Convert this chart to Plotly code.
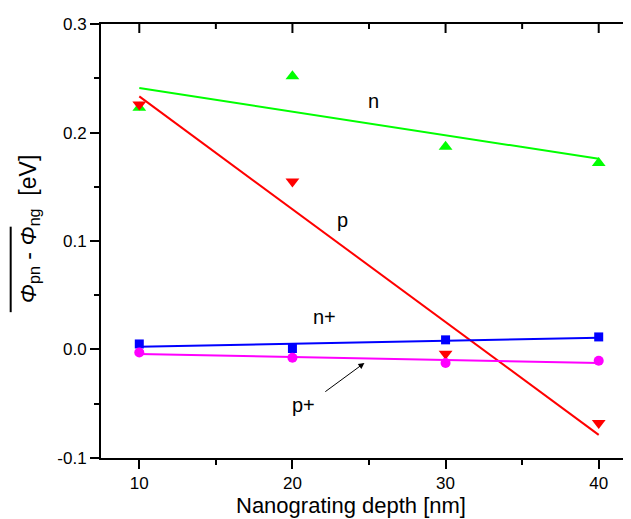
import numpy as np
import plotly.graph_objects as go

# ---- data ----
depth = [10, 20, 30, 40]
n_vals = [0.223, 0.252, 0.187, 0.172]
p_vals = [0.226, 0.155, -0.004, -0.068]
nplus_vals = [0.005, 0.0008, 0.0088, 0.0115]
pplus_vals = [-0.0028, -0.0077, -0.0126, -0.0105]

series_names = ["n", "p", "n+", "p+"]
series_colors = ["#00FF00", "#FF0000", "#0000FF", "#FF00FF"]
series_symbols = ["triangle-up", "triangle-down", "square", "circle"]
series_sizes = [12, 12, 9, 10]
series_data = [n_vals, p_vals, nplus_vals, pplus_vals]

x_ticks = [10, 20, 30, 40]
x_minor = [15, 25, 35]
y_ticks = [-0.1, 0.0, 0.1, 0.2, 0.3]
y_ticktext = ["-0.1", "0.0", "0.1", "0.2", "0.3"]

FONT = "Arial, Liberation Sans, sans-serif"
PLOT_H = 434  # plot area height in px
PLOT_W = 538  # plot area width in px

fig = go.Figure()

x_arr = np.array(depth, dtype=float)
for name, col, sym, sz, vals in zip(series_names, series_colors, series_symbols, series_sizes, series_data):
    slope, icpt = np.polyfit(x_arr, np.array(vals), 1)
    xf = np.array([x_arr.min(), x_arr.max()])
    fig.add_trace(go.Scatter(x=xf, y=slope * xf + icpt, mode="lines",
                             line=dict(color=col, width=2), showlegend=False,
                             hoverinfo="skip"))
    fig.add_trace(go.Scatter(x=depth, y=vals, mode="markers", name=name,
                             marker=dict(symbol=sym, size=sz, color=col,
                                         line=dict(width=0)),
                             showlegend=False))

# series labels
label_pos = {"n": (25.3, 0.229), "p": (23.3, 0.119), "n+": (22.1, 0.0295), "p+": (20.7, -0.0515)}
for name, (lx, ly) in label_pos.items():
    fig.add_annotation(x=lx, y=ly, text=name, showarrow=False,
                       font=dict(family=FONT, size=20, color="black"))

# arrow to p+ line
fig.add_annotation(x=24.7, y=-0.0125, ax=22.05, ay=-0.040, axref="x", ayref="y",
                   text="", showarrow=True, arrowhead=2, arrowsize=1.2,
                   arrowwidth=1, arrowcolor="black")

# axis titles
fig.add_annotation(x=0.4665, y=-0.109, xref="paper", yref="paper",
                   text="Nanograting depth [nm]", showarrow=False,
                   xanchor="center", yanchor="middle",
                   font=dict(family=FONT, size=22, color="black"))
fig.add_annotation(x=-0.1345, y=0.527, xref="paper", yref="paper",
                   text="<i>Φ</i><sub>pn</sub> - <i>Φ</i><sub>ng</sub>  [eV]",
                   textangle=-90, showarrow=False,
                   xanchor="center", yanchor="middle",
                   font=dict(family=FONT, size=23, color="black"))
# overline over the difference
fig.add_shape(type="line", xref="paper", yref="paper",
              x0=-0.1685, x1=-0.1685, y0=0.336, y1=0.533,
              line=dict(color="black", width=2))

# inward ticks on top spine
for t in x_ticks:
    fig.add_shape(type="line", xref="x", yref="paper", x0=t, x1=t, y0=1, y1=1 - 9 / PLOT_H,
                  line=dict(color="black", width=2))
for t in x_minor:
    fig.add_shape(type="line", xref="x", yref="paper", x0=t, x1=t, y0=1, y1=1 - 5 / PLOT_H,
                  line=dict(color="black", width=2))
# inward ticks on right spine
for t in y_ticks:
    fig.add_shape(type="line", xref="paper", yref="y", x0=1, x1=1 - 9 / PLOT_W, y0=t, y1=t,
                  line=dict(color="black", width=2))

fig.update_xaxes(range=[7.5, 42.5], tickvals=x_ticks, ticktext=[str(t) for t in x_ticks],
                 ticks="outside", ticklen=9, tickwidth=2, tickcolor="black",
                 minor=dict(dtick=5, tick0=5, ticks="outside", ticklen=5, tickwidth=2, tickcolor="black"),
                 showline=True, linecolor="black", linewidth=2, mirror=True,
                 showgrid=False, zeroline=False,
                 tickfont=dict(family=FONT, size=17, color="black"))
fig.update_yaxes(range=[-0.1002, 0.3002], tickvals=y_ticks, ticktext=y_ticktext,
                 ticks="outside", ticklen=9, tickwidth=2, tickcolor="black",
                 minor=dict(dtick=0.05, tick0=0.05, ticks="outside", ticklen=5, tickwidth=2, tickcolor="black"),
                 showline=True, linecolor="black", linewidth=2, mirror=True,
                 showgrid=False, zeroline=False,
                 tickfont=dict(family=FONT, size=17, color="black"))

fig.update_layout(width=631, height=519,
                  margin=dict(l=93, r=0, t=16, b=69),
                  paper_bgcolor="white", plot_bgcolor="white",
                  showlegend=False)

fig.write_html("out.html")
